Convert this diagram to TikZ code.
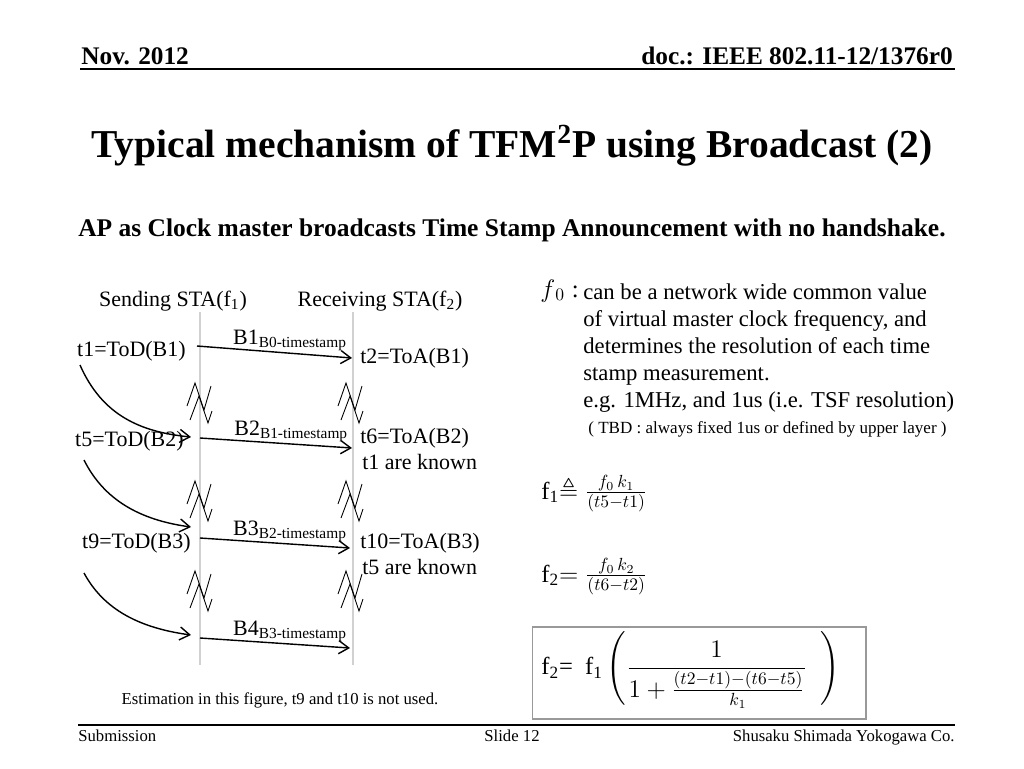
\documentclass[tikz,border=0pt]{standalone}
\usepackage{amsmath,amssymb}
\usepackage{fontspec}
\setmainfont{Liberation Serif}
\usetikzlibrary{arrows.meta}

\begin{document}
\begin{tikzpicture}[
  x=0.02cm, y=-0.02cm,
  font=\fontsize{12.5}{15}\selectfont,
  >={Straight Barb[length=2mm,width=2.6mm]},
  lifeline/.style={draw=black!18, line width=0.6pt},
  msg/.style={->, line width=0.8pt, draw=black},
  cause/.style={->, line width=0.8pt, draw=black},
  brk/.style={draw=black, line width=0.5pt},
  ev/.style={inner sep=0pt},
  stamp/.style={inner sep=1pt, above},
  hdr/.style={font=\fontsize{14.4}{16}\selectfont\bfseries, inner sep=0pt},
  foot/.style={font=\fontsize{9.5}{11}\selectfont, inner sep=0pt},
  rule/.style={draw=black, line width=1.2pt}
]
\useasboundingbox (0,0) rectangle (1024,768);

% header and title
\node[hdr, anchor=base west] (date) at (81,64) {Nov. 2012};
\node[hdr, anchor=base east] (doc) at (953,64) {doc.: IEEE 802.11-12/1376r0};
\draw[rule] (80,69) -- (955,69);
\node[inner sep=0pt, anchor=base, font=\fontsize{22.5}{27}\selectfont\bfseries] (title) at (512,157)
  {Typical mechanism of TFM\textsuperscript{2}P using Broadcast (2)};
\node[inner sep=0pt, anchor=base, font=\fontsize{14.5}{17}\selectfont\bfseries] (sub) at (512,236)
  {AP as Clock master broadcasts Time Stamp Announcement with no handshake.};

% stations
\node[ev, anchor=base] (snd) at (173,306) {Sending STA(f\textsubscript{1})};
\node[ev, anchor=base] (rcv) at (380,306) {Receiving STA(f\textsubscript{2})};
\draw[lifeline] (200,312) -- (200,665);
\draw[lifeline] (353,312) -- (353,665);

% events
\node[ev, anchor=base east] (t1) at (186,356) {t1=ToD(B1)};
\node[ev, anchor=base west] (t2) at (360,363) {t2=ToA(B1)};
\node[ev, anchor=base east] (t5) at (184,446) {t5=ToD(B2)};
\node[ev, anchor=base west] (t6) at (360,443) {t6=ToA(B2)};
\node[ev, anchor=base west] (k1) at (362,469) {t1 are known};
\node[ev, anchor=base east] (t9) at (191,548) {t9=ToD(B3)};
\node[ev, anchor=base west] (t10) at (360,548) {t10=ToA(B3)};
\node[ev, anchor=base west] (k5) at (362,574) {t5 are known};

% beacons
\coordinate (s1) at (197,346); \coordinate (r1) at (352,358);
\coordinate (s2) at (200,438); \coordinate (r2) at (352,448);
\coordinate (s3) at (200,538); \coordinate (r3) at (350,548);
\coordinate (s4) at (200,638); \coordinate (r4) at (350,648);
\draw[msg] (s1) -- node[stamp, pos=0.6] {B1\textsubscript{B0-timestamp}} (r1);
\draw[msg] (s2) -- node[stamp, pos=0.6] {B2\textsubscript{B1-timestamp}} (r2);
\draw[msg] (s3) -- node[stamp, pos=0.6] {B3\textsubscript{B2-timestamp}} (r3);
\draw[msg] (s4) -- node[stamp, pos=0.6] {B4\textsubscript{B3-timestamp}} (r4);

% next departure
\coordinate (c1) at (80,365);  \coordinate (e2) at (191,437);
\coordinate (c2) at (84,460);  \coordinate (e3) at (191,527);
\coordinate (c3) at (84,573);  \coordinate (e4) at (191,635);
\draw[cause] (c1) .. controls (102,415) and (140,432) .. (e2);
\draw[cause] (c2) .. controls (104,500) and (140,520) .. (e3);
\draw[cause] (c3) .. controls (104,610) and (140,628) .. (e4);

% breaks
\foreach \yy in {402,500,590}
  \foreach \xx in {201,352} {
    \draw[brk, shift={(\xx,\yy)}] (-14,4) -- (-6,-19) -- (3,8) -- (10,-16);
    \draw[brk, shift={(\xx,\yy)}] (-11,18) -- (-2,-6) -- (7,21) -- (11,9);
  }

\node[inner sep=0pt, anchor=base, font=\fontsize{9.5}{11}\selectfont] (note) at (280,704)
  {Estimation in this figure, t9 and t10 is not used.};

% f0 text
\node[ev, anchor=base west, font=\fontsize{14}{16}\selectfont] (fz) at (540,297) {$f_{\,0}$\;:};
\node[ev, anchor=north west, align=left, font=\fontsize{12.9}{15.4}\selectfont] (desc) at (583,283)
  {can be a network wide common value\\
   of virtual master clock frequency, and\\
   determines the resolution of each time\\
   stamp measurement.\\
   e.g. 1MHz, and 1us (i.e. TSF resolution)};
\node[ev, anchor=base west, font=\fontsize{9.7}{12}\selectfont] (tbd) at (588,433)
  {( TBD : always fixed 1us or defined by upper layer )};

% formulas
\node[ev, anchor=west, font=\fontsize{14}{16}\selectfont] (fone) at (541,494)
  {f\textsubscript{1}$\triangleq\frac{f_0\,k_1}{(t5-t1)}$};
\node[ev, anchor=west, font=\fontsize{14}{16}\selectfont] (ftwo) at (541,577)
  {f\textsubscript{2}$=\frac{f_0\,k_2}{(t6-t2)}$};
\node[draw=black!40, line width=0.6pt, minimum width=6.68cm, minimum height=1.84cm] (fbox) at (699,673) {};
\node[ev, anchor=west, font=\fontsize{14}{16}\selectfont] (fres) at (541,670)
  {f\textsubscript{2}=~~f\textsubscript{1}\,$\left(\dfrac{1}{1+\frac{(t2-t1)-(t6-t5)}{k_1}}\;\;\right)$};

% footer
\draw[rule] (78,725) -- (955,725);
\node[foot, anchor=base west] (subm) at (78,741) {Submission};
\node[foot, anchor=base] (slide) at (512,741) {Slide 12};
\node[foot, anchor=base east] (auth) at (955,741) {Shusaku Shimada Yokogawa Co.};
\end{tikzpicture}
\end{document}
